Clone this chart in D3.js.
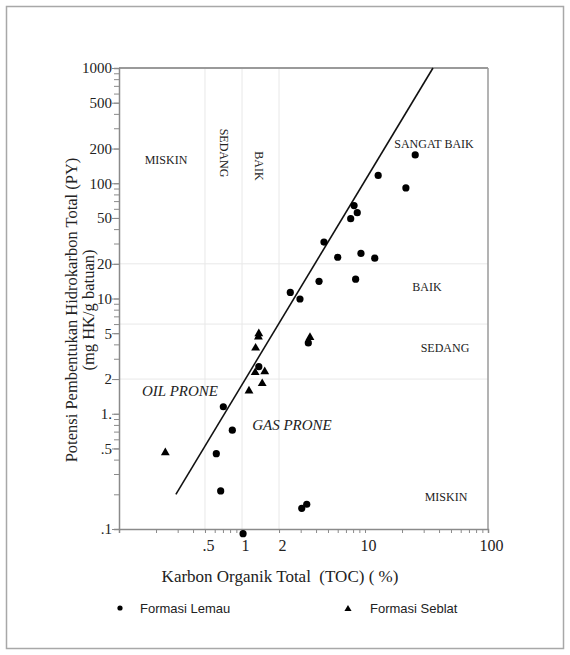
<!DOCTYPE html>
<html lang="id">
<head>
    <meta charset="UTF-8">
    <title>Potensi Pembentukan Hidrokarbon vs TOC</title>
    <script src="https://d3js.org/d3.v7.min.js"></script>
    <style>
        body { margin: 0; background: #fff; }
        svg { display: block; }
        .serif { font-family: "Liberation Serif", "DejaVu Serif", serif; fill: #222; }
        .axis path, .axis line { stroke: #8a8a8a; }
        .axis text { font-family: "Liberation Serif", serif; font-size: 15px; fill: #222; }
        .xlab text { font-size: 16px; }
        .grid line { stroke: #e8e8e8; stroke-width: 1; }
        .legend { font-family: "Liberation Sans", Arial, sans-serif; font-size: 13px; fill: #222; }
    </style>
</head>
<body>
<svg id="chart" width="570" height="655"></svg>
<script>
    // Formasi Lemau (titik bulat)
    const lemauToc = [25.6, 12.8, 21.5, 8.15, 8.65, 7.65, 4.64, 6.0, 9.27, 12.0, 4.23, 8.39,
                      2.47, 2.96, 1.37, 0.705, 0.834, 0.618, 0.671, 1.02, 3.06, 3.36, 3.46];
    const lemauPy  = [176, 117, 91, 64, 55.6, 49.3, 30.9, 22.8, 24.6, 22.4, 14.1, 14.7,
                      11.3, 9.9, 2.56, 1.15, 0.72, 0.45, 0.214, 0.091, 0.151, 0.164, 4.12];

    // Formasi Seblat (segitiga)
    const seblatToc = [1.37, 1.36, 1.29, 1.28, 1.53, 1.46, 1.14, 0.238, 3.57];
    const seblatPy  = [4.95, 4.65, 3.72, 2.28, 2.32, 1.83, 1.58, 0.46, 4.6];

    // garis batas oil prone / gas prone
    const trendToc = [0.29, 35.7];
    const trendPy  = [0.2, 1000];

    const xTickValues = [0.5, 1, 2, 10, 100];
    const xTickLabels = [".5", "1", "2", "10", "100"];
    const yTickValues = [1000, 500, 200, 100, 50, 20, 10, 5, 2, 1, 0.5, 0.1];
    const yTickLabels = ["1000", "500", "200", "100", "50", "20", "10", "5", "2", "1.", ".5", ".1"];

    const xGrid = [0.5, 1, 2];
    const yGrid = [20, 6, 2];

    const svg = d3.select("#chart");

    // bingkai luar
    svg.append("rect")
        .attr("x", 6.5).attr("y", 6.5)
        .attr("width", 557).attr("height", 642)
        .attr("fill", "none")
        .attr("stroke", "#a8a8a8")
        .attr("stroke-width", 1.5);

    const x = d3.scaleLog().domain([0.1, 100]).range([119, 488]);
    const y = d3.scaleLog().domain([0.1, 1000]).range([529, 68]);

    // grid
    const grid = svg.append("g").attr("class", "grid");
    grid.selectAll(".gx").data(xGrid).enter().append("line")
        .attr("x1", d => x(d)).attr("x2", d => x(d))
        .attr("y1", y(1000)).attr("y2", y(0.1));
    grid.selectAll(".gy").data(yGrid).enter().append("line")
        .attr("x1", x(0.1)).attr("x2", x(100))
        .attr("y1", d => y(d)).attr("y2", d => y(d));

    // frame atas dan kanan
    svg.append("line")
        .attr("x1", x(0.1)).attr("x2", x(100))
        .attr("y1", y(1000)).attr("y2", y(1000))
        .attr("stroke", "#9a9a9a").attr("stroke-width", 2);
    svg.append("line")
        .attr("x1", x(100)).attr("x2", x(100))
        .attr("y1", y(1000)).attr("y2", y(0.1))
        .attr("stroke", "#9a9a9a").attr("stroke-width", 1.5);

    // sumbu Y
    svg.append("g").attr("class", "axis")
        .attr("transform", `translate(${x(0.1)},0)`)
        .call(d3.axisLeft(y).tickValues(y.ticks()).tickSize(5).tickFormat(""))
        .call(g => g.select(".domain").attr("stroke-width", 1.5));
    svg.append("g").attr("class", "axis")
        .attr("transform", `translate(${x(0.1)},0)`)
        .call(d3.axisLeft(y).tickValues(yTickValues).tickSize(7).tickPadding(0)
            .tickFormat((d, i) => yTickLabels[i]))
        .call(g => g.select(".domain").remove());

    // sumbu X
    svg.append("g").attr("class", "axis")
        .attr("transform", `translate(0,${y(0.1)})`)
        .call(d3.axisBottom(x).tickValues(x.ticks()).tickSize(4).tickFormat(""))
        .call(g => g.select(".domain").attr("stroke-width", 1.5));
    svg.append("g").attr("class", "axis xlab")
        .attr("transform", `translate(0,${y(0.1)})`)
        .call(d3.axisBottom(x).tickValues(xTickValues).tickSize(4).tickPadding(7)
            .tickFormat((d, i) => xTickLabels[i]))
        .call(g => g.select(".domain").remove())
        .call(g => g.selectAll("text").attr("dx", 3));

    // garis tren
    svg.append("path")
        .datum(trendToc.map((t, i) => [t, trendPy[i]]))
        .attr("d", d3.line().x(d => x(d[0])).y(d => y(d[1])))
        .attr("fill", "none")
        .attr("stroke", "#111")
        .attr("stroke-width", 1.6);

    // titik data
    const tri = d3.symbol().type(d3.symbolTriangle).size(34);
    svg.selectAll(".lemau")
        .data(lemauToc.map((t, i) => [t, lemauPy[i]]))
        .enter().append("circle")
        .attr("cx", d => x(d[0])).attr("cy", d => y(d[1]))
        .attr("r", 3.6).attr("fill", "#000");
    svg.selectAll(".seblat")
        .data(seblatToc.map((t, i) => [t, seblatPy[i]]))
        .enter().append("path")
        .attr("d", tri)
        .attr("transform", d => `translate(${x(d[0])},${y(d[1])})`)
        .attr("fill", "#000");

    // label zona
    const zoneText = (tx, ty, s, size, opts = {}) => {
        const t = svg.append("text").attr("class", "serif")
            .attr("x", tx).attr("y", ty)
            .attr("text-anchor", "middle")
            .style("font-size", size + "px")
            .text(s);
        if (opts.italic) t.style("font-style", "italic");
        if (opts.rotate) t.attr("transform", `rotate(${opts.rotate},${tx},${ty})`);
        return t;
    };
    zoneText(166, 164, "MISKIN", 12);
    zoneText(220, 153, "SEDANG", 12, { rotate: 90 });
    zoneText(255, 166, "BAIK", 12, { rotate: 90 });
    zoneText(434, 148, "SANGAT BAIK", 12);
    zoneText(427, 291, "BAIK", 12);
    zoneText(445, 352, "SEDANG", 12);
    zoneText(446, 501, "MISKIN", 12);
    zoneText(180, 396, "OIL PRONE", 15, { italic: true });
    zoneText(292, 430, "GAS PRONE", 15, { italic: true });

    // judul sumbu
    svg.append("text").attr("class", "serif")
        .attr("x", 280).attr("y", 582)
        .attr("text-anchor", "middle")
        .style("font-size", "17px")
        .attr("xml:space", "preserve")
        .text("Karbon Organik Total  (TOC) ( %)");
    zoneText(77, 310, "Potensi Pembentukan Hidrokarbon Total (PY)", 16.5, { rotate: -90 });
    zoneText(94, 310, "(mg HK/g batuan)", 16.5, { rotate: -90 });

    // legenda
    svg.append("circle").attr("cx", 120).attr("cy", 608).attr("r", 2.6).attr("fill", "#000");
    svg.append("text").attr("class", "legend").attr("x", 140).attr("y", 613).text("Formasi Lemau");
    svg.append("path").attr("d", d3.symbol().type(d3.symbolTriangle).size(22))
        .attr("transform", "translate(348,609)").attr("fill", "#000");
    svg.append("text").attr("class", "legend").attr("x", 370).attr("y", 613).text("Formasi Seblat");
</script>
</body>
</html>
